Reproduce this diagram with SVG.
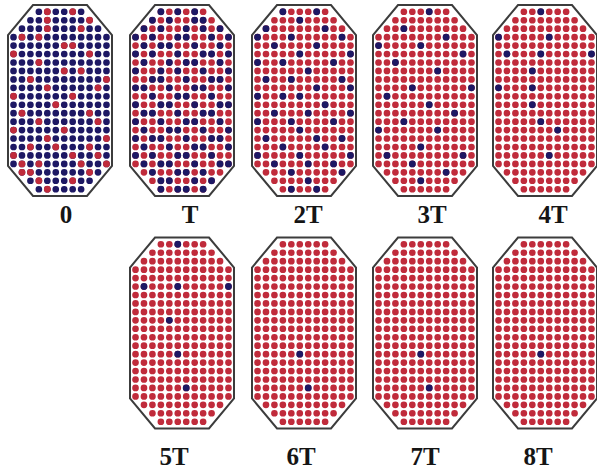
<svg xmlns="http://www.w3.org/2000/svg" xmlns:xlink="http://www.w3.org/1999/xlink" width="597" height="472" viewBox="0 0 597 472">
<style>
.oct{fill:#fff;stroke:#3c3c3c;stroke-width:2}
.rg{fill:none;stroke:#c02b3b;stroke-width:.79;stroke-linecap:round;stroke-dasharray:0 1}
.bg{fill:none;stroke:#1d1864;stroke-width:.79;stroke-linecap:round;stroke-dasharray:0 1}
.rd{fill:none;stroke:#c02b3b;stroke-width:.81;stroke-linecap:round}
.bd{fill:none;stroke:#1d1864;stroke-width:.81;stroke-linecap:round}
text{font-family:"Liberation Serif","Times New Roman",serif;font-weight:bold;font-size:25px;text-anchor:middle;fill:#151515}
</style>
<defs>
<polygon id="oct" points="25,0 79,0 104,30 104,161 79,191 25,191 0,161 0,30"/>
<path id="grid" d="M3 0H8.5M2 1H9.5M1 2H10.5M0 3H11.5M0 4H11.5M0 5H11.5M0 6H11.5M0 7H11.5M0 8H11.5M0 9H11.5M0 10H11.5M0 11H11.5M0 12H11.5M0 13H11.5M0 14H11.5M0 15H11.5M0 16H11.5M0 17H11.5M0 18H11.5M1 19H10.5M2 20H9.5M3 21H8.5"/>
</defs>
<g id="panel-0" transform="translate(8,5)">
<use href="#oct" class="oct"/>
<g transform="translate(5.525,6.78) scale(8.45)">
<use href="#grid" class="bg"/>
<path class="rd" d="M4 0h0M7 0h0M4 1h0M9 1h0M4 2h0M8 2h0M1 3h0M3 3h0M6 4h0M7 4h0M0 5h0M9 5h0M3 6h0M6 7h0M8 7h0M2 8h0M11 8h0M4 9h0M10 9h0M0 10h0M7 10h0M5 11h0M1 12h0M9 12h0M3 13h0M10 13h0M0 14h0M6 14h0M4 15h0M11 15h0M2 16h0M5 16h0M9 16h0M0 17h0M7 17h0M10 17h0M1 18h0M3 18h0M8 18h0M11 18h0M1 19h0M2 19h0M9 19h0M3 20h0M7 20h0M4 21h0"/>
</g>
<text x="58" y="218">0</text>
</g>
<g id="panel-T" transform="translate(130,5)">
<use href="#oct" class="oct"/>
<g transform="translate(5.525,6.78) scale(8.45)">
<use href="#grid" class="rg"/>
<path class="bd" d="M3 0h0M5 0h0M7 0h0M2 1h0M4 1h0M7 1h0M8 1h0M1 2h0M3 2h0M6 2h0M8 2h0M10 2h0M0 3h0M2 3h0M5 3h0M6 3h0M9 3h0M11 3h0M1 4h0M3 4h0M4 4h0M7 4h0M10 4h0M0 5h0M2 5h0M5 5h0M8 5h0M9 5h0M11 5h0M1 6h0M4 6h0M6 6h0M7 6h0M10 6h0M0 7h0M3 7h0M5 7h0M8 7h0M11 7h0M2 8h0M3 8h0M6 8h0M9 8h0M10 8h0M0 9h0M1 9h0M4 9h0M7 9h0M8 9h0M11 9h0M2 10h0M5 10h0M6 10h0M9 10h0M0 11h0M3 11h0M4 11h0M7 11h0M10 11h0M11 11h0M1 12h0M2 12h0M5 12h0M8 12h0M9 12h0M0 13h0M3 13h0M6 13h0M7 13h0M10 13h0M1 14h0M4 14h0M5 14h0M8 14h0M11 14h0M0 15h0M2 15h0M3 15h0M6 15h0M9 15h0M10 15h0M1 16h0M4 16h0M7 16h0M8 16h0M11 16h0M0 17h0M2 17h0M5 17h0M6 17h0M9 17h0M1 18h0M3 18h0M4 18h0M7 18h0M10 18h0M11 18h0M2 19h0M5 19h0M6 19h0M8 19h0M3 20h0M4 20h0M7 20h0M9 20h0M3 21h0M5 21h0M6 21h0M8 21h0"/>
</g>
<text x="60" y="218">T</text>
</g>
<g id="panel-2T" transform="translate(252,5)">
<use href="#oct" class="oct"/>
<g transform="translate(5.525,6.78) scale(8.45)">
<use href="#grid" class="rg"/>
<path class="bd" d="M3 0h0M7 0h0M5 1h0M1 2h0M8 2h0M0 3h0M4 3h0M10 3h0M2 4h0M7 4h0M5 5h0M11 5h0M0 6h0M3 6h0M9 6h0M6 7h0M1 8h0M4 8h0M10 8h0M7 9h0M11 9h0M0 10h0M3 10h0M5 10h0M8 11h0M2 12h0M6 12h0M11 12h0M0 13h0M4 13h0M9 13h0M5 14h0M1 15h0M7 15h0M10 15h0M3 16h0M8 16h0M0 17h0M5 17h0M11 17h0M2 18h0M6 18h0M9 18h0M4 19h0M10 19h0M6 20h0M4 21h0M7 21h0"/>
</g>
<text x="56" y="218">2T</text>
</g>
<g id="panel-3T" transform="translate(373,5)">
<use href="#oct" class="oct"/>
<g transform="translate(5.525,6.78) scale(8.45)">
<use href="#grid" class="rg"/>
<path class="bd" d="M6 0h0M3 2h0M8 3h0M0 4h0M5 4h0M10 5h0M2 6h0M7 7h0M4 9h0M11 9h0M1 10h0M6 11h0M9 12h0M3 13h0M0 14h0M7 14h0M5 16h0M1 17h0M10 17h0M4 18h0M8 19h0M5 20h0"/>
</g>
<text x="59" y="218">3T</text>
</g>
<g id="panel-4T" transform="translate(493,5)">
<use href="#oct" class="oct"/>
<g transform="translate(5.525,6.78) scale(8.45)">
<use href="#grid" class="rg"/>
<path class="bd" d="M5 0h0M0 3h0M6 3h0M1 5h0M5 5h0M11 5h0M4 7h0M0 9h0M4 9h0M4 11h0M5 13h0M7 14h0M6 17h0"/>
</g>
<text x="60" y="218">4T</text>
</g>
<g id="panel-5T" transform="translate(130,237.5)">
<use href="#oct" class="oct"/>
<g transform="translate(5.525,6.78) scale(8.45)">
<use href="#grid" class="rg"/>
<path class="bd" d="M5 0h0M1 5h0M5 5h0M11 5h0M4 9h0M5 13h0M6 17h0"/>
</g>
<text x="44" y="227">5T</text>
</g>
<g id="panel-6T" transform="translate(252,237.5)">
<use href="#oct" class="oct"/>
<g transform="translate(5.525,6.78) scale(8.45)">
<use href="#grid" class="rg"/>
<path class="bd" d="M5 13h0M6 17h0"/>
</g>
<text x="49" y="227">6T</text>
</g>
<g id="panel-7T" transform="translate(373,237.5)">
<use href="#oct" class="oct"/>
<g transform="translate(5.525,6.78) scale(8.45)">
<use href="#grid" class="rg"/>
<path class="bd" d="M5 13h0M6 17h0"/>
</g>
<text x="52" y="227">7T</text>
</g>
<g id="panel-8T" transform="translate(493,237.5)">
<use href="#oct" class="oct"/>
<g transform="translate(5.525,6.78) scale(8.45)">
<use href="#grid" class="rg"/>
<path class="bd" d="M5 13h0"/>
</g>
<text x="45" y="227">8T</text>
</g>
<g id="connectors"/>
</svg>
